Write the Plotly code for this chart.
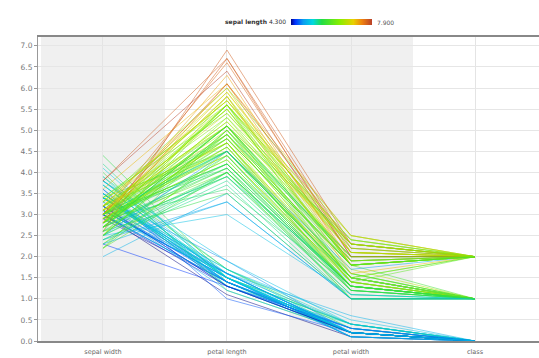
import plotly.graph_objects as go
from plotly.colors import sample_colorscale

# Iris data (sepal length, sepal width, petal length, petal width, class)
sepal_length = [
5.1,4.9,4.7,4.6,5.0,5.4,4.6,5.0,4.4,4.9,5.4,4.8,4.8,4.3,5.8,5.7,5.4,5.1,5.7,5.1,5.4,5.1,4.6,5.1,4.8,
5.0,5.0,5.2,5.2,4.7,4.8,5.4,5.2,5.5,4.9,5.0,5.5,4.9,4.4,5.1,5.0,4.5,4.4,5.0,5.1,4.8,5.1,4.6,5.3,5.0,
7.0,6.4,6.9,5.5,6.5,5.7,6.3,4.9,6.6,5.2,5.0,5.9,6.0,6.1,5.6,6.7,5.6,5.8,6.2,5.6,5.9,6.1,6.3,6.1,6.4,
6.6,6.8,6.7,6.0,5.7,5.5,5.5,5.8,6.0,5.4,6.0,6.7,6.3,5.6,5.5,5.5,6.1,5.8,5.0,5.6,5.7,5.7,6.2,5.1,5.7,
6.3,5.8,7.1,6.3,6.5,7.6,4.9,7.3,6.7,7.2,6.5,6.4,6.8,5.7,5.8,6.4,6.5,7.7,7.7,6.0,6.9,5.6,7.7,6.3,6.7,
7.2,6.2,6.1,6.4,7.2,7.4,7.9,6.4,6.3,6.1,7.7,6.3,6.4,6.0,6.9,6.7,6.9,5.8,6.8,6.7,6.7,6.3,6.5,6.2,5.9]
sepal_width = [
3.5,3.0,3.2,3.1,3.6,3.9,3.4,3.4,2.9,3.1,3.7,3.4,3.0,3.0,4.0,4.4,3.9,3.5,3.8,3.8,3.4,3.7,3.6,3.3,3.4,
3.0,3.4,3.5,3.4,3.2,3.1,3.4,4.1,4.2,3.1,3.2,3.5,3.1,3.0,3.4,3.5,2.3,3.2,3.5,3.8,3.0,3.8,3.2,3.7,3.3,
3.2,3.2,3.1,2.3,2.8,2.8,3.3,2.4,2.9,2.7,2.0,3.0,2.2,2.9,2.9,3.1,3.0,2.7,2.2,2.5,3.2,2.8,2.5,2.8,2.9,
3.0,2.8,3.0,2.9,2.6,2.4,2.4,2.7,2.7,3.0,3.4,3.1,2.3,3.0,2.5,2.6,3.0,2.6,2.3,2.7,3.0,2.9,2.9,2.5,2.8,
3.3,2.7,3.0,2.9,3.0,3.0,2.5,2.9,2.5,3.6,3.2,2.7,3.0,2.5,2.8,3.2,3.0,3.8,2.6,2.2,3.2,2.8,2.8,2.7,3.3,
3.2,2.8,3.0,2.8,3.0,2.8,3.8,2.8,2.8,2.6,3.0,3.4,3.1,3.0,3.1,3.1,3.1,2.7,3.2,3.3,3.0,2.5,3.0,3.4,3.0]
petal_length = [
1.4,1.4,1.3,1.5,1.4,1.7,1.4,1.5,1.4,1.5,1.5,1.6,1.4,1.1,1.2,1.5,1.3,1.4,1.7,1.5,1.7,1.5,1.0,1.7,1.9,
1.6,1.6,1.5,1.4,1.6,1.6,1.5,1.5,1.4,1.5,1.2,1.3,1.5,1.3,1.5,1.3,1.3,1.3,1.6,1.9,1.4,1.6,1.4,1.5,1.4,
4.7,4.5,4.9,4.0,4.6,4.5,4.7,3.3,4.6,3.9,3.5,4.2,4.0,4.7,3.6,4.4,4.5,4.1,4.5,3.9,4.8,4.0,4.9,4.7,4.3,
4.4,4.8,5.0,4.5,3.5,3.8,3.7,3.9,5.1,4.5,4.5,4.7,4.4,4.1,4.0,4.4,4.6,4.0,3.3,4.2,4.2,4.2,4.3,3.0,4.1,
6.0,5.1,5.9,5.6,5.8,6.6,4.5,6.3,5.8,6.1,5.1,5.3,5.5,5.0,5.1,5.3,5.5,6.7,6.9,5.0,5.7,4.9,6.7,4.9,5.7,
6.0,4.8,4.9,5.6,5.8,6.1,6.4,5.6,5.1,5.6,6.1,5.6,5.5,4.8,5.4,5.6,5.1,5.1,5.9,5.7,5.2,5.0,5.2,5.4,5.1]
petal_width = [
0.2,0.2,0.2,0.2,0.2,0.4,0.3,0.2,0.2,0.1,0.2,0.2,0.1,0.1,0.2,0.4,0.4,0.3,0.3,0.3,0.2,0.4,0.2,0.5,0.2,
0.2,0.4,0.2,0.2,0.2,0.2,0.4,0.1,0.2,0.1,0.2,0.2,0.1,0.2,0.2,0.3,0.3,0.2,0.6,0.4,0.3,0.2,0.2,0.2,0.2,
1.4,1.5,1.5,1.3,1.5,1.3,1.6,1.0,1.3,1.4,1.0,1.5,1.0,1.4,1.3,1.4,1.5,1.0,1.5,1.1,1.8,1.3,1.5,1.2,1.3,
1.4,1.4,1.7,1.5,1.0,1.1,1.0,1.2,1.6,1.5,1.6,1.5,1.3,1.3,1.3,1.2,1.4,1.2,1.0,1.3,1.2,1.3,1.3,1.1,1.3,
2.5,1.9,2.1,1.8,2.2,2.1,1.7,1.8,1.8,2.5,2.0,1.9,2.1,2.0,2.4,2.3,1.8,2.2,2.3,1.5,2.3,2.0,2.0,1.8,2.1,
1.8,1.8,1.8,2.1,1.6,1.9,2.0,2.2,1.5,1.4,2.3,2.4,1.8,1.8,2.1,2.4,2.3,1.9,2.3,2.5,2.3,1.9,2.0,2.3,1.8]
iris_class = [0]*50 + [1]*50 + [2]*50

dimensions = ["sepal width", "petal length", "petal width", "class"]
color_min, color_max = 4.3, 7.9
y_ticks = [i * 0.5 for i in range(15)]

colorscale = [
    [0.0, "#000080"], [0.05, "#0030ff"], [0.15, "#0a9cf0"], [0.27, "#00d8e0"],
    [0.38, "#22dd44"], [0.6, "#88ee00"], [0.77, "#e8d000"], [0.88, "#ee8010"],
    [1.0, "#b84028"],
]

fig = go.Figure()

for i in range(len(sepal_length)):
    t = (sepal_length[i] - color_min) / (color_max - color_min)
    c = sample_colorscale(colorscale, [t], colortype="tuple")[0]
    rgb = tuple(int(round(v * 255)) if max(c) <= 1 else int(v) for v in c)
    rgba = "rgba(%d,%d,%d,0.5)" % rgb
    fig.add_trace(go.Scatter(
        x=dimensions,
        y=[sepal_width[i], petal_length[i], petal_width[i], iris_class[i]],
        mode="lines", line=dict(color=rgba, width=1),
        hoverinfo="skip", showlegend=False))

# colour scale legend
fig.add_trace(go.Scatter(
    x=[None], y=[None], mode="markers", showlegend=False, hoverinfo="skip",
    marker=dict(color=[color_min, color_max], cmin=color_min, cmax=color_max,
                colorscale=colorscale, showscale=True,
                colorbar=dict(orientation="h", lenmode="pixels", len=81,
                              thickness=6, x=0.586, xanchor="center",
                              y=1.049, yanchor="middle", xpad=0, ypad=0,
                              outlinewidth=0, showticklabels=False, ticks=""))))

shapes = []
for k in (0, 2):
    shapes.append(dict(type="rect", xref="x", yref="paper", x0=k - 0.5, x1=k + 0.5,
                       y0=0, y1=1, fillcolor="#f0f0f0", line=dict(width=0), layer="below"))

fig.update_layout(
    width=539, height=358,
    margin=dict(l=38, r=0, t=37, b=17, autoexpand=False),
    paper_bgcolor="white", plot_bgcolor="white",
    font=dict(family="DejaVu Sans", size=7, color="#777777"),
    shapes=shapes,
    annotations=[
        dict(text="<b>sepal length</b> 4.300", x=0.499, y=1.049, xref="paper", yref="paper",
             xanchor="right", yanchor="middle", showarrow=False,
             font=dict(size=6, color="#333333")),
        dict(text="7.900", x=0.673, y=1.049, xref="paper", yref="paper",
             xanchor="left", yanchor="middle", showarrow=False,
             font=dict(size=6, color="#555555")),
    ],
)
fig.update_xaxes(type="category", categoryorder="array", categoryarray=dimensions,
                 range=[-0.524, 3.516], showgrid=True, gridcolor="#e4e4e4",
                 showline=True, linecolor="#888888", linewidth=1.5, mirror=True,
                 ticks="", zeroline=False, ticklabelstandoff=3,
                 tickfont=dict(size=6.5, color="#666666"))
fig.update_yaxes(range=[0, 7.21], tickvals=y_ticks, tickformat=".1f",
                 showgrid=True, gridcolor="#e6e6e6", zeroline=False,
                 showline=True, linecolor="#999999", linewidth=1,
                 ticks="outside", ticklen=3, tickcolor="#999999",
                 tickfont=dict(size=7.5, color="#777777"))

fig.write_html("out.html", config={"displayModeBar": False},
               post_script="document.body.style.margin='0px';")
